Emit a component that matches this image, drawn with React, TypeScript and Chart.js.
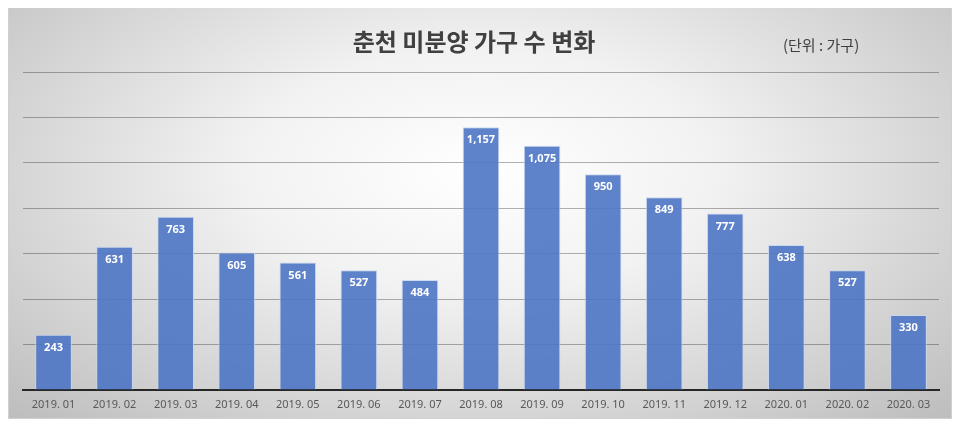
import React, { useEffect, useRef } from "react";
import { Chart, registerables } from "chart.js";

Chart.register(...registerables);

const categories = [
  "2019. 01", "2019. 02", "2019. 03", "2019. 04", "2019. 05", "2019. 06", "2019. 07", "2019. 08",
  "2019. 09", "2019. 10", "2019. 11", "2019. 12", "2020. 01", "2020. 02", "2020. 03",
];
const units = [243, 631, 763, 605, 561, 527, 484, 1157, 1075, 950, 849, 777, 638, 527, 330];
const titleText = "춘천 미분양 가구 수 변화";
const unitText = "(단위 : 가구)";

const labelPlugin = {
  id: "barLabels",
  afterDatasetsDraw(chart: any) {
    const ctx = chart.ctx;
    const meta = chart.getDatasetMeta(0);
    ctx.save();
    ctx.fillStyle = "#ffffff";
    ctx.font = "bold 11px 'Noto Sans', 'DejaVu Sans', sans-serif";
    ctx.textAlign = "center";
    ctx.textBaseline = "middle";
    meta.data.forEach((bar: any, i: number) => {
      ctx.fillText(units[i].toLocaleString("en-US"), bar.x, bar.y + 13);
    });
    ctx.restore();
  },
  afterDraw(chart: any) {
    const ctx = chart.ctx;
    ctx.save();
    ctx.fillStyle = "#404040";
    ctx.textBaseline = "middle";
    ctx.textAlign = "center";
    ctx.font = "bold 24px 'Noto Sans CJK KR', sans-serif";
    ctx.fillText(titleText, 465, 34);
    ctx.textAlign = "left";
    ctx.font = "15px 'Noto Sans CJK KR', sans-serif";
    ctx.fillText(unitText, 774, 37);
    ctx.restore();
  },
};

export default function App() {
  const ref = useRef<HTMLCanvasElement>(null);
  useEffect(() => {
    if (!ref.current) return;
    const chart = new Chart(ref.current, {
      type: "bar",
      data: {
        labels: categories,
        datasets: [
          {
            data: units,
            backgroundColor: "rgba(78,117,197,0.9)",
            borderColor: "rgba(200,214,238,0.9)",
            borderWidth: 1,
            barPercentage: 0.6,
            categoryPercentage: 1,
          },
        ],
      },
      plugins: [labelPlugin],
      options: {
        animation: false,
        responsive: false,
        maintainAspectRatio: false,
        layout: { padding: { left: 14, right: 12, top: 64, bottom: 0 } },
        plugins: {
          legend: { display: false },
          tooltip: { enabled: false },
          title: { display: false },
        },
        scales: {
          x: {
            grid: { display: false, drawTicks: false },
            border: { display: true, color: "#262626", width: 2 },
            ticks: {
              color: "#595959",
              font: { size: 11, family: "'Noto Sans', sans-serif" },
              padding: 8,
              maxRotation: 0,
              autoSkip: false,
            },
            afterFit(scale: any) {
              scale.height = 28;
            },
          },
          y: {
            min: 0,
            max: 1400,
            grid: { color: "rgba(0,0,0,0.3)", lineWidth: 1, drawTicks: false },
            border: { display: false },
            ticks: { display: false, stepSize: 200 },
            afterFit(scale: any) {
              scale.width = 0;
            },
          },
        },
      },
    });
    return () => chart.destroy();
  }, []);
  return (
    <div
      style={{
        width: 942,
        height: 410,
        marginTop: -1,
        border: "1px solid #d0d0d0",
        background:
          "radial-gradient(ellipse farthest-corner at 50% 40%, #ffffff 0%, #f2f2f2 35%, #bdbdbd 100%)",
      }}
    >
      <canvas ref={ref} width={942} height={410} style={{ display: "block" }} />
    </div>
  );
}
